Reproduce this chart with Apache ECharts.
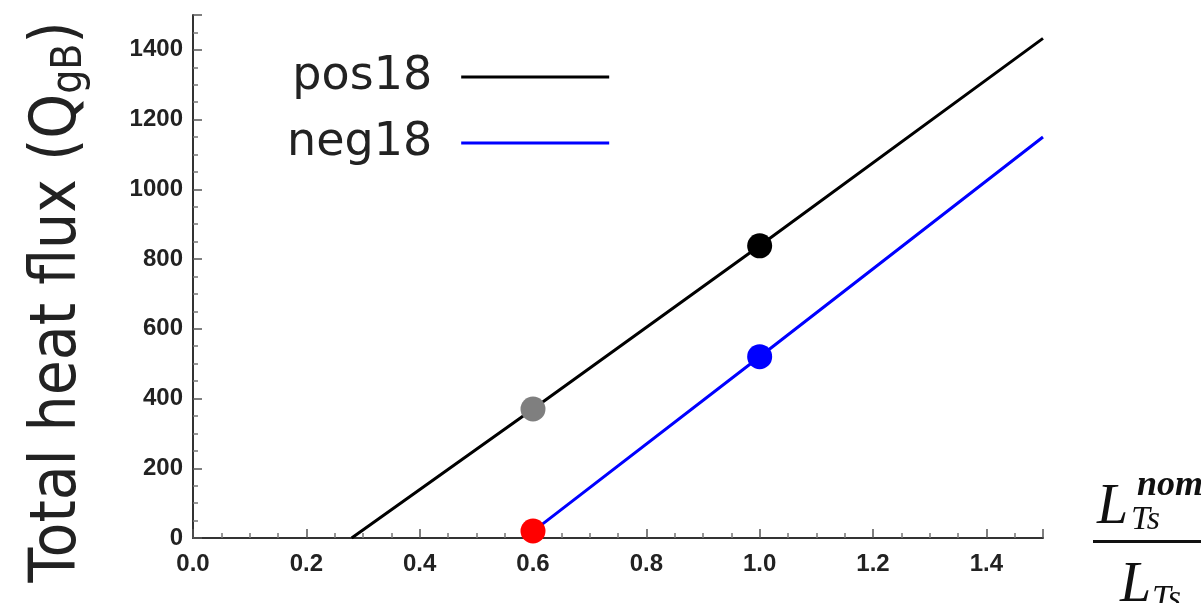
<!DOCTYPE html>
<html>
<head>
<meta charset="utf-8">
<script src="https://cdn.jsdelivr.net/npm/echarts@6/dist/echarts.min.js"></script>
<style>
  html, body { margin: 0; padding: 0; background: #ffffff; }
  #chart { width: 1201px; height: 603px; }
</style>
</head>
<body>
<div id="chart"></div>
<script>
// Total heat flux versus L_Ts^nom / L_Ts for the two cases
const seriesNames = ['pos18', 'neg18'];

// pos18 line (x = L_Ts^nom / L_Ts, y = total heat flux)
const posX = [0.28, 0.6, 1.0, 1.5];
const posY = [0, 370, 838, 1433];

// neg18 line
const negX = [0.585, 0.6, 1.0, 1.5];
const negY = [0, 19, 520, 1150];

// highlighted operating points
const posMarkX = [0.6, 1.0];
const posMarkY = [370, 838];
const negMarkX = [0.6, 1.0];
const negMarkY = [20, 520];

const xTicks = [0, 0.2, 0.4, 0.6, 0.8, 1.0, 1.2, 1.4];
const yTicks = [0, 200, 400, 600, 800, 1000, 1200, 1400];

const zip = (xs, ys) => xs.map((x, i) => [x, ys[i]]);

const chart = echarts.init(document.getElementById('chart'), null, { renderer: 'canvas' });

const tickFont = {
  fontFamily: 'Liberation Sans',
  fontWeight: 'bold',
  fontSize: 24,
  color: '#222'
};

const serif = 'Liberation Serif';

chart.setOption({
  animation: false,
  backgroundColor: '#ffffff',
  grid: { left: 193, right: 158, top: 15, bottom: 65, containLabel: false },
  legend: {
    data: seriesNames,
    orient: 'vertical',
    left: 282,
    top: 49,
    align: 'right',
    icon: 'rect',
    itemWidth: 148,
    itemHeight: 3,
    itemGap: 20,
    textStyle: {
      fontFamily: 'DejaVu Sans',
      fontSize: 46,
      color: '#222',
      padding: [0, 24, 0, 0]
    }
  },
  xAxis: {
    type: 'value',
    min: 0,
    max: 1.5,
    interval: 0.2,
    splitLine: { show: false },
    axisLine: { show: true, lineStyle: { color: '#333', width: 2 } },
    axisTick: { show: true, inside: true, length: 9, lineStyle: { color: '#555', width: 1.5 } },
    minorTick: { show: true, splitNumber: 4, length: 5, lineStyle: { color: '#777', width: 1.5 } },
    axisLabel: {
      ...tickFont,
      margin: 14,
      showMaxLabel: false,
      formatter: v => xTicks.some(t => Math.abs(t - v) < 1e-9) ? v.toFixed(1) : ''
    }
  },
  yAxis: {
    type: 'value',
    min: 0,
    max: 1500,
    interval: 200,
    splitLine: { show: false },
    axisLine: { show: true, lineStyle: { color: '#333', width: 2 } },
    axisTick: { show: true, inside: true, length: 9, lineStyle: { color: '#555', width: 1.5 } },
    minorTick: { show: true, splitNumber: 4, length: 5, lineStyle: { color: '#777', width: 1.5 } },
    axisLabel: {
      ...tickFont,
      margin: 10,
      showMaxLabel: false,
      formatter: v => yTicks.includes(v) ? String(v) : ''
    }
  },
  graphic: [
    // y-axis title, rotated to read upwards
    {
      type: 'text',
      x: 58,
      y: 302,
      rotation: Math.PI / 2,
      scaleY: 1.12,
      style: {
        text: '{a|Total heat flux (Q}{s|gB}{a|)}',
        align: 'center',
        verticalAlign: 'middle',
        rich: {
          a: { fontFamily: 'DejaVu Sans', fontSize: 57, fill: '#222' },
          s: { fontFamily: 'DejaVu Sans', fontSize: 38, fill: '#222', padding: [22, 0, 0, 0] }
        }
      }
    },
    // x-axis quantity: L_Ts^nom / L_Ts
    { type: 'text', left: 1097, top: 480, style: { text: 'L', font: 'italic 56px ' + serif, fill: '#111' } },
    { type: 'text', left: 1137, top: 468, style: { text: 'nom', font: 'italic bold 36px ' + serif, fill: '#111' } },
    { type: 'text', left: 1131, top: 503, style: { text: 'Ts', font: 'italic 34px ' + serif, fill: '#111' } },
    { type: 'rect', shape: { x: 1093, y: 540, width: 110, height: 3 }, style: { fill: '#111' } },
    { type: 'text', left: 1120, top: 558, style: { text: 'L', font: 'italic 56px ' + serif, fill: '#111' } },
    { type: 'text', left: 1152, top: 582, style: { text: 'Ts', font: 'italic 34px ' + serif, fill: '#111' } }
  ],
  series: [
    {
      name: seriesNames[0],
      type: 'line',
      data: zip(posX, posY),
      symbol: 'none',
      color: '#000000',
      lineStyle: { color: '#000000', width: 3 },
      z: 2
    },
    {
      name: seriesNames[1],
      type: 'line',
      data: zip(negX, negY),
      symbol: 'none',
      color: '#0000ff',
      lineStyle: { color: '#0000ff', width: 3 },
      z: 2
    },
    {
      type: 'scatter',
      data: zip(posMarkX, posMarkY),
      symbolSize: 25,
      clip: false,
      itemStyle: { color: p => ['#7f7f7f', '#000000'][p.dataIndex], opacity: 1 },
      z: 3
    },
    {
      type: 'scatter',
      data: zip(negMarkX, negMarkY),
      symbolSize: 25,
      clip: false,
      itemStyle: { color: p => ['#ff0000', '#0000ff'][p.dataIndex], opacity: 1 },
      z: 3
    }
  ]
});
</script>
</body>
</html>
